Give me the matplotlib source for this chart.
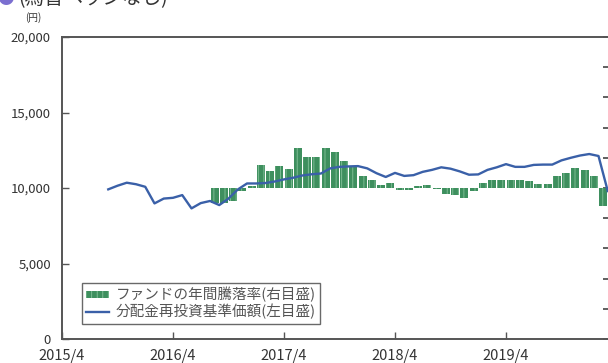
import matplotlib
matplotlib.use("Agg")
import matplotlib.pyplot as plt
import numpy as np
import pandas as pd
from matplotlib.ticker import FuncFormatter

plt.rcParams['font.family'] = ['Noto Sans CJK JP', 'DejaVu Sans']
plt.rcParams['hatch.linewidth'] = 0.6

# ---- data ----
title_text = "(為替ヘッジなし)"
x_tick_labels = ["2015/4", "2016/4", "2017/4", "2018/4", "2019/4"]
axis_start = "2015-04"

nav_start = "2015-09"
nav_values = [9910, 10150, 10350, 10250, 10080, 8980, 9300, 9350, 9530, 8650,
              9000, 9140, 8870, 9300, 9900, 10300, 10300, 10330, 10430, 10570,
              10680, 10830, 10910, 10960, 11300, 11400, 11430, 11450, 11300, 10980,
              10730, 11000, 10800, 10850, 11070, 11200, 11370, 11280, 11100, 10880,
              10900, 11200, 11370, 11580, 11400, 11400, 11530, 11550, 11550, 11830,
              12000, 12150, 12250, 12120, 9800]

ret_start = "2016-09"
ret_values = [-9.9, -9.9, -8.8, -2.0, 1.0, 15.4, 11.4, 14.3, 12.8, 26.8,
              20.4, 20.4, 26.8, 24.0, 17.6, 14.3, 7.7, 5.5, 2.2, 3.3,
              -1.5, -1.5, 1.0, 2.0, -0.5, -4.0, -4.5, -6.6, -2.2, 3.3,
              5.5, 5.5, 5.5, 5.5, 4.4, 2.6, 2.6, 7.7, 9.9, 13.2,
              12.1, 7.7, -12.0]

legend_bar = "ファンドの年間騰落率(右目盛)"
legend_line = "分配金再投資基準価額(左目盛)"

# ---- helpers ----
def month_index(start, n):
    p0 = pd.Period(axis_start, freq="M")
    p1 = pd.Period(start, freq="M")
    off = (p1 - p0).n
    return np.arange(n) + off

nav_x = month_index(nav_start, len(nav_values))
ret_x = month_index(ret_start, len(ret_values)) - 0.5
tick_pos = [12 * i for i in range(len(x_tick_labels))]

W, H = 608, 363
fig = plt.figure(figsize=(W / 100, H / 100), dpi=100)
left_px, right_px, top_px, bot_px = 62, 610, 37, 339
ax = fig.add_axes([left_px / W, 1 - bot_px / H, (right_px - left_px) / W, (bot_px - top_px) / H])
ax2 = ax.twinx()

spine_c = "#555555"
text_c = "#333333"

bar_green = "#3e8f5e"
bars = ax2.bar(ret_x, ret_values, width=0.86, color=bar_green, edgecolor="#86c39c",
               linewidth=0, hatch="|||", zorder=2)

line, = ax.plot(nav_x, nav_values, color="#3a60a8", lw=1.7, zorder=3, solid_joinstyle="round")

ax.set_zorder(ax2.get_zorder() + 1)
ax.patch.set_visible(False)

ax.set_xlim(0, (right_px - left_px) / 9.25)
ax.set_ylim(0, 20000)
ax2.set_ylim(-100, 100)

ax.set_yticks(range(0, 20001, 5000))
ax.yaxis.set_major_formatter(FuncFormatter(lambda v, p: f"{int(v):,}"))
ax.set_xticks(tick_pos)
ax.set_xticklabels(x_tick_labels)
ax2.set_yticks(range(-100, 101, 20))
ax2.tick_params(axis="y", direction="in", length=5, width=1.2, color="#444444", labelright=False)

ax.tick_params(axis="y", direction="in", length=5, width=1.0, color=spine_c,
               labelsize=9.5, labelcolor=text_c, pad=8)
ax.tick_params(axis="x", direction="in", length=5, width=1.0, color=spine_c,
               labelsize=10.5, labelcolor=text_c, pad=7.5)

for a in (ax, ax2):
    for s in a.spines.values():
        s.set_color(spine_c)
        s.set_linewidth(1.2)

leg = ax.legend([bars, line], [legend_bar, legend_line], loc="lower left",
                bbox_to_anchor=(0.036, 0.05), borderaxespad=0, fontsize=10.5,
                frameon=True, fancybox=False, handlelength=1.6, handleheight=0.4,
                handletextpad=0.45, labelspacing=0.1, borderpad=0.3)
leg.get_frame().set_edgecolor("#444444")
leg.get_frame().set_linewidth(1.0)
for t in leg.get_texts():
    t.set_color("#555555")

fig.text(33 / W, 1 - 18 / H, "(円)", fontsize=7, color=text_c, ha="center", va="center")
fig.text(-3 / W, 1 + 1 / H, "●", fontsize=12, color="#7b6fd0", ha="left", va="center")
fig.text(18 / W, 1 + 1 / H, title_text, fontsize=14, color="#333333", ha="left", va="center")

fig.savefig("out.png", dpi=100)
